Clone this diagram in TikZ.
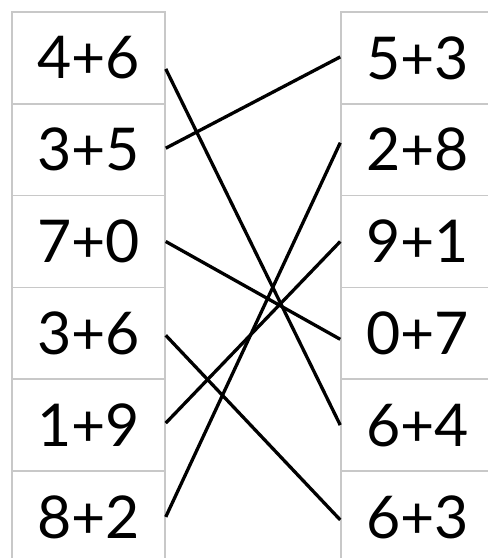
\documentclass[tikz,border=0pt]{standalone}
\usepackage{fontspec}
\setmainfont{Lato}
\definecolor{boxgray}{HTML}{C8C8C8}
\tikzset{
  cell/.style={draw=boxgray, line width=1.5pt, minimum width=153pt, minimum height=91.8pt,
    inner sep=0pt, font=\fontsize{59}{60}\selectfont, anchor=center},
  link/.style={line width=3.3pt, black}
}
\begin{document}
\begin{tikzpicture}[x=1pt,y=1pt]
\useasboundingbox (0,0) rectangle (488,558);
% left column (centres at y = 558 - image y)
\node[cell] (l1) at (88.5,500.1) {4+6};
\node[cell] (l2) at (88.5,408.3) {3+5};
\node[cell] (l3) at (88.5,316.5) {7+0};
\node[cell] (l4) at (88.5,224.7) {3+6};
\node[cell] (l5) at (88.5,132.9) {1+9};
\node[cell] (l6) at (88.5,41.1) {8+2};
% right column
\node[cell] (r1) at (417.5,500.1) {5+3};
\node[cell] (r2) at (417.5,408.3) {2+8};
\node[cell] (r3) at (417.5,316.5) {9+1};
\node[cell] (r4) at (417.5,224.7) {0+7};
\node[cell] (r5) at (417.5,132.9) {6+4};
\node[cell] (r6) at (417.5,41.1) {6+3};
% connectors
\draw[link] ([yshift=-11pt]l1.east) -- (r5.west);
\draw[link] ([yshift=1.5pt]l2.east) -- ([yshift=1pt]r1.west);
\draw[link] (l3.east) -- ([yshift=-6pt]r4.west);
\draw[link] ([yshift=-2pt]l4.east) -- ([yshift=-3pt]r6.west);
\draw[link] ([yshift=2pt]l5.east) -- (r3.west);
\draw[link] (l6.east) -- ([yshift=7pt]r2.west);
\end{tikzpicture}
\end{document}
